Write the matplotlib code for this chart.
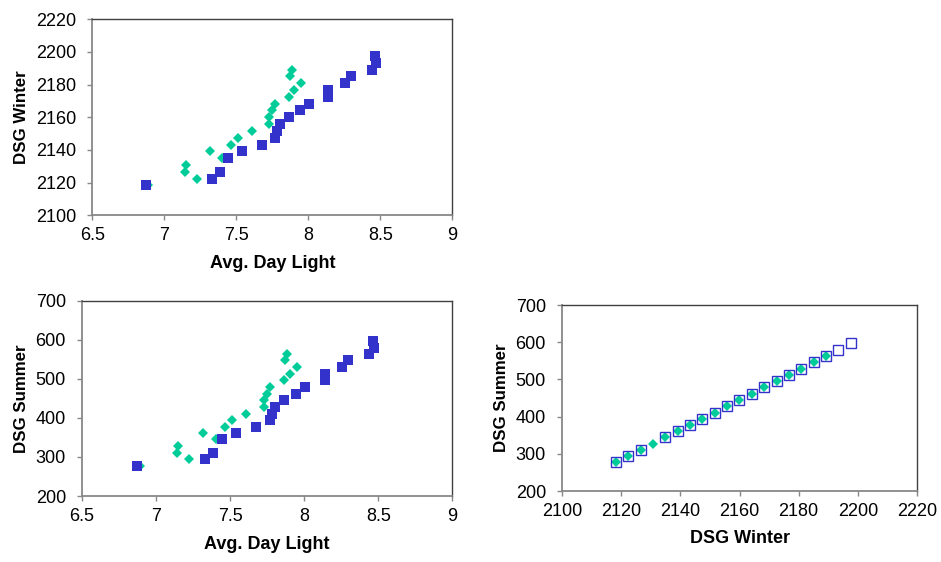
import matplotlib
matplotlib.use("Agg")
import matplotlib.pyplot as plt
from matplotlib.ticker import FixedLocator

plt.rcParams['font.family'] = ['Liberation Sans', 'DejaVu Sans']

# --- Data ---
daylight_blue = [6.873, 7.331, 7.387, 7.445, 7.537, 7.678, 7.767, 7.780, 7.806, 7.866,
                 7.944, 8.007, 8.139, 8.139, 8.255, 8.294, 8.440, 8.470, 8.463]
winter_blue = [2118.3, 2122.4, 2126.7, 2134.9, 2139.1, 2143.3, 2147.4, 2151.6, 2155.9, 2159.9,
               2164.2, 2168.3, 2172.6, 2176.7, 2180.9, 2185.1, 2189.2, 2193.4, 2197.6]
summer_blue = [277, 295, 311, 345, 361, 377, 394, 411, 428, 445,
               462, 480, 496, 512, 529, 547, 563, 580, 597]

daylight_green = [6.89, 7.225, 7.144, 7.148, 7.403, 7.315, 7.465, 7.510, 7.609, 7.727,
                  7.729, 7.748, 7.766, 7.864, 7.903, 7.949, 7.871, 7.885]
winter_green = [2118.3, 2122.4, 2126.7, 2130.8, 2134.9, 2139.1, 2143.3, 2147.4, 2151.6, 2155.9,
                2159.9, 2164.2, 2168.3, 2172.6, 2176.7, 2180.9, 2185.1, 2189.2]
summer_green = [277, 295, 311, 327, 345, 361, 377, 394, 411, 428,
                445, 462, 480, 496, 512, 529, 547, 563]

daylight_ticks = [6.5, 7, 7.5, 8, 8.5, 9]
daylight_ticklabels = ['6.5', '7', '7.5', '8', '8.5', '9']
winter_ticks = [2100, 2120, 2140, 2160, 2180, 2200, 2220]
summer_ticks = [200, 300, 400, 500, 600, 700]

BLUE = '#3333CC'
GREEN = '#00CC99'

fig = plt.figure(figsize=(9.41, 5.62), dpi=100)

W, H = 941, 562

def make_ax(l, r, t, b):
    return fig.add_axes([l / W, 1 - b / H, (r - l) / W, (b - t) / H])

def style(ax, xlabel, ylabel, xticks, xlabels, yticks, xlab_y, ylab_x):
    ax.set_xlim(xticks[0], xticks[-1])
    ax.set_ylim(yticks[0], yticks[-1])
    ax.xaxis.set_major_locator(FixedLocator(xticks))
    ax.set_xticklabels(xlabels)
    ax.yaxis.set_major_locator(FixedLocator(yticks))
    ax.set_yticklabels([str(v) for v in yticks])
    for s in ['top', 'right']:
        ax.spines[s].set_color('#404040')
        ax.spines[s].set_linewidth(1.0)
    for s in ['left', 'bottom']:
        ax.spines[s].set_color('#888888')
        ax.spines[s].set_linewidth(1.3)
    ax.tick_params(axis='both', direction='out', length=3.6, width=1, color='#888888',
                   labelsize=13, labelcolor='black')
    ax.tick_params(axis='x', pad=5.0)
    ax.tick_params(axis='y', pad=8.0)
    ax.set_xlabel(xlabel, fontsize=13, fontweight='bold')
    ax.set_ylabel(ylabel, fontsize=12.2, fontweight='bold')
    ax.xaxis.set_label_coords(0.5, xlab_y)
    ax.yaxis.set_label_coords(ylab_x, 0.5)

DSIZE = 4.8

# Top-left: Daylight vs Winter
ax1 = make_ax(92.3, 452.3, 19.3, 215.3)
ax1.plot(daylight_green, winter_green, 'D', color=GREEN, markersize=DSIZE, markeredgewidth=0, clip_on=False)
ax1.plot(daylight_blue, winter_blue, 's', color=BLUE, markersize=7.2, markeredgewidth=0, clip_on=False)
style(ax1, 'Avg. Day Light', 'DSG Winter', daylight_ticks, daylight_ticklabels, winter_ticks,
      -0.205, -0.175)

# Bottom-left: Daylight vs Summer
ax2 = make_ax(82, 452.3, 300.7, 496)
ax2.plot(daylight_green, summer_green, 'D', color=GREEN, markersize=DSIZE, markeredgewidth=0, clip_on=False)
ax2.plot(daylight_blue, summer_blue, 's', color=BLUE, markersize=7.2, markeredgewidth=0, clip_on=False)
style(ax2, 'Avg. Day Light', 'DSG Summer', daylight_ticks, daylight_ticklabels, summer_ticks,
      -0.205, -0.142)

# Bottom-right: Winter vs Summer
ax3 = make_ax(562, 917, 305, 491)
ax3.plot(winter_green, summer_green, 'D', color=GREEN, markersize=DSIZE, markeredgewidth=0, clip_on=False)
ax3.plot(winter_blue, summer_blue, 's', markerfacecolor='none', markeredgecolor=BLUE,
         markersize=6.5, markeredgewidth=1.0, clip_on=False)
style(ax3, 'DSG Winter', 'DSG Summer', winter_ticks, [str(v) for v in winter_ticks], summer_ticks,
      -0.21, -0.15)

fig.savefig('out.png', dpi=100)
